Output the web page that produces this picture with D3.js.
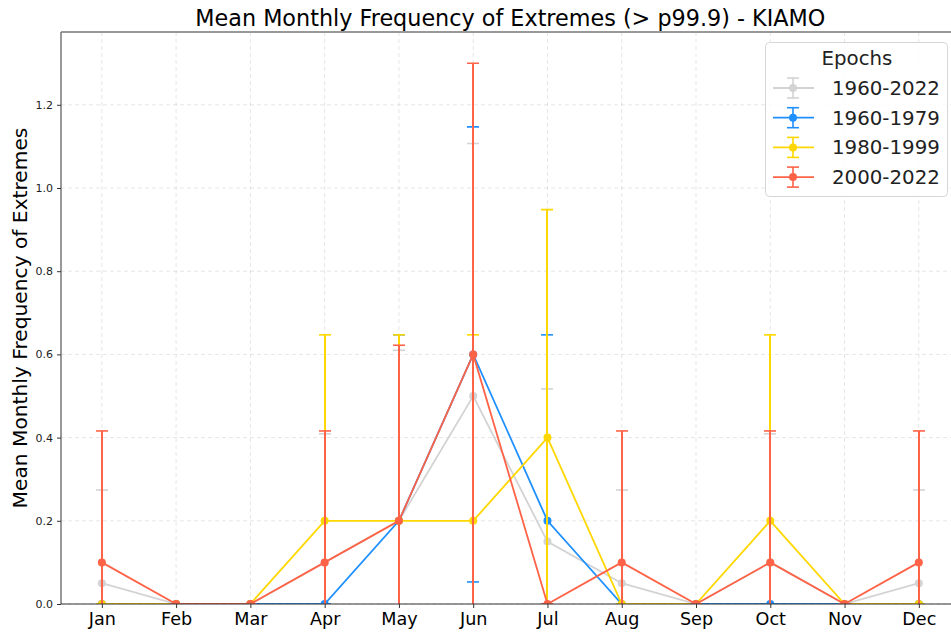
<!DOCTYPE html>
<html>
<head>
<meta charset="utf-8">
<title>Mean Monthly Frequency of Extremes - KIAMO</title>
<script src="https://cdn.jsdelivr.net/npm/d3@7"></script>
<style>
  body { margin: 0; background: #fff; }
  svg { font-family: "DejaVu Sans", sans-serif; }
</style>
</head>
<body>
<script>
// ---- data ----
var months = ["Jan", "Feb", "Mar", "Apr", "May", "Jun", "Jul", "Aug", "Sep", "Oct", "Nov", "Dec"];
var epochs = ["1960-2022", "1960-1979", "1980-1999", "2000-2022"];
var colors = ["#d3d3d3", "#1e90ff", "#ffd700", "#ff6347"];
var yTicks = [0.0, 0.2, 0.4, 0.6, 0.8, 1.0, 1.2];

var mean_all   = [0.05, 0, 0, 0.1, 0.2, 0.5, 0.15, 0.05, 0, 0.1, 0, 0.05];
var mean_6079  = [0, 0, 0, 0, 0.2, 0.6, 0.2, 0, 0, 0, 0, 0];
var mean_8099  = [0, 0, 0, 0.2, 0.2, 0.2, 0.4, 0, 0, 0.2, 0, 0];
var mean_0022  = [0.1, 0, 0, 0.1, 0.2, 0.6, 0, 0.1, 0, 0.1, 0, 0.1];

var std_all    = [0.224, 0, 0, 0.309, 0.41, 0.607, 0.367, 0.224, 0, 0.309, 0, 0.224];
var std_6079   = [0, 0, 0, 0, 0.447, 0.547, 0.447, 0, 0, 0, 0, 0];
var std_8099   = [0, 0, 0, 0.447, 0.447, 0.447, 0.548, 0, 0, 0.447, 0, 0];
var std_0022   = [0.316, 0, 0, 0.316, 0.422, 0.7, 0, 0.316, 0, 0.316, 0, 0.316];

var means = [mean_all, mean_6079, mean_8099, mean_0022];
var stds = [std_all, std_6079, std_8099, std_0022];

// ---- layout ----
var W = 951, H = 632;
var pLeft = 61, pTop = 32, pBottom = 604;
var step = 74.27;
var pRight = pLeft + 12.1 * step;

var svg = d3.select("body").append("svg")
    .attr("width", W).attr("height", H);

var x = d3.scaleLinear().domain([-0.55, 11.55]).range([pLeft, pRight]);
var y = d3.scaleLinear().domain([0, 1.375]).range([pBottom, pTop]);
// error bar x snapped to whole pixels so stacked bars don't bleed through
function xs(i) { return Math.round(x(i)); }

svg.append("defs").append("clipPath").attr("id", "plotclip")
  .append("rect")
    .attr("x", pLeft).attr("y", pTop)
    .attr("width", pRight - pLeft).attr("height", pBottom - pTop);

// grid
var grid = svg.append("g");
grid.selectAll(".gx").data(months).enter().append("line")
    .attr("x1", function(d, i) { return x(i); })
    .attr("x2", function(d, i) { return x(i); })
    .attr("y1", pTop).attr("y2", pBottom)
    .attr("stroke", "#b0b0b0").attr("stroke-opacity", 0.4)
    .attr("stroke-dasharray", "4,3").attr("stroke-width", 0.8);
grid.selectAll(".gy").data(yTicks).enter().append("line")
    .attr("x1", pLeft).attr("x2", pRight)
    .attr("y1", function(d) { return y(d); })
    .attr("y2", function(d) { return y(d); })
    .attr("stroke", "#b0b0b0").attr("stroke-opacity", 0.4)
    .attr("stroke-dasharray", "4,3").attr("stroke-width", 0.8);

// series
var plot = svg.append("g").attr("clip-path", "url(#plotclip)");
var line = d3.line().x(function(d, i) { return x(i); }).y(function(d) { return y(d); });

epochs.forEach(function(ep, k) {
  var g = plot.append("g");
  var pts = means[k].map(function(m, i) { return {i: i, m: m, s: stds[k][i]}; });
  var eb = g.append("g").attr("stroke", colors[k]).attr("stroke-width", 2);
  eb.selectAll(".bar").data(pts).enter().append("line")
      .attr("x1", function(d) { return xs(d.i); })
      .attr("x2", function(d) { return xs(d.i); })
      .attr("y1", function(d) { return y(d.m - d.s); })
      .attr("y2", function(d) { return y(d.m + d.s); });
  [1, -1].forEach(function(sg) {
    eb.selectAll(".cap" + sg).data(pts).enter().append("line")
        .attr("stroke-width", 1.6)
        .attr("x1", function(d) { return xs(d.i) - 6; })
        .attr("x2", function(d) { return xs(d.i) + 6; })
        .attr("y1", function(d) { return y(d.m + sg * d.s); })
        .attr("y2", function(d) { return y(d.m + sg * d.s); });
  });
  g.append("path").datum(means[k])
      .attr("d", line)
      .attr("fill", "none").attr("stroke", colors[k]).attr("stroke-width", 1.8);
  g.selectAll("circle").data(pts).enter().append("circle")
      .attr("cx", function(d) { return x(d.i); })
      .attr("cy", function(d) { return y(d.m); })
      .attr("r", 4).attr("fill", colors[k]);
});

// spines
svg.append("line").attr("x1", pLeft).attr("x2", pLeft).attr("y1", pTop).attr("y2", pBottom)
    .attr("stroke", "#777").attr("stroke-width", 1.5);
svg.append("line").attr("x1", pLeft).attr("x2", pRight).attr("y1", pTop).attr("y2", pTop)
    .attr("stroke", "#777").attr("stroke-width", 1.5);
svg.append("line").attr("x1", pLeft).attr("x2", pRight).attr("y1", pBottom).attr("y2", pBottom)
    .attr("stroke", "#333").attr("stroke-width", 1.2);

// axes
var xAxis = svg.append("g").attr("transform", "translate(0," + pBottom + ")")
    .call(d3.axisBottom(x).tickValues(d3.range(12)).tickFormat(function(i) { return months[i]; })
      .tickSize(4).tickPadding(5));
xAxis.select(".domain").remove();
xAxis.selectAll("text").attr("font-size", "17.6px").attr("fill", "#000")
    .attr("font-family", "DejaVu Sans");
xAxis.selectAll("line").attr("stroke", "#333");

var yAxis = svg.append("g").attr("transform", "translate(" + pLeft + ",0)")
    .call(d3.axisLeft(y).tickValues(yTicks).tickFormat(d3.format(".1f")).tickSize(4).tickPadding(4));
yAxis.select(".domain").remove();
yAxis.selectAll("text").attr("font-size", "11px").attr("fill", "#222")
    .attr("font-family", "DejaVu Sans");
yAxis.selectAll("line").attr("stroke", "#333");

// title & label
svg.append("text").attr("x", (pLeft + pRight) / 2).attr("y", 26)
    .attr("text-anchor", "middle").attr("font-size", "22.3px").attr("fill", "#000")
    .text("Mean Monthly Frequency of Extremes (> p99.9) - KIAMO");
svg.append("text")
    .attr("transform", "translate(27," + ((pTop + pBottom) / 2) + ") rotate(-90)")
    .attr("text-anchor", "middle").attr("font-size", "20.2px").attr("fill", "#000")
    .text("Mean Monthly Frequency of Extremes");

// legend
var lg = svg.append("g");
lg.append("rect").attr("x", 765.5).attr("y", 42.5).attr("width", 182).attr("height", 154)
    .attr("rx", 4).attr("fill", "#fff").attr("fill-opacity", 0.85)
    .attr("stroke", "#d6d6d6").attr("stroke-width", 1);
lg.append("text").attr("x", 857).attr("y", 65).attr("text-anchor", "middle")
    .attr("font-size", "19.8px").attr("fill", "#222").text("Epochs");
var items = lg.selectAll(".item").data(epochs).enter().append("g")
    .attr("transform", function(d, i) { return "translate(0," + (88 + i * 29.7) + ")"; });
items.append("line").attr("x1", 773).attr("x2", 814).attr("y1", 0).attr("y2", 0)
    .attr("stroke", function(d, i) { return colors[i]; }).attr("stroke-width", 1.8);
items.append("line").attr("x1", 793).attr("x2", 793).attr("y1", -10).attr("y2", 10)
    .attr("stroke", function(d, i) { return colors[i]; }).attr("stroke-width", 1.6);
[-10, 10].forEach(function(dy) {
  items.append("line").attr("x1", 787).attr("x2", 799).attr("y1", dy).attr("y2", dy)
      .attr("stroke", function(d, i) { return colors[i]; }).attr("stroke-width", 1.6);
});
items.append("circle").attr("cx", 793).attr("cy", 0).attr("r", 4)
    .attr("fill", function(d, i) { return colors[i]; });
items.append("text").attr("x", 832).attr("y", 7).attr("font-size", "19.8px").attr("fill", "#222")
    .text(function(d) { return d; });
</script>
</body>
</html>
